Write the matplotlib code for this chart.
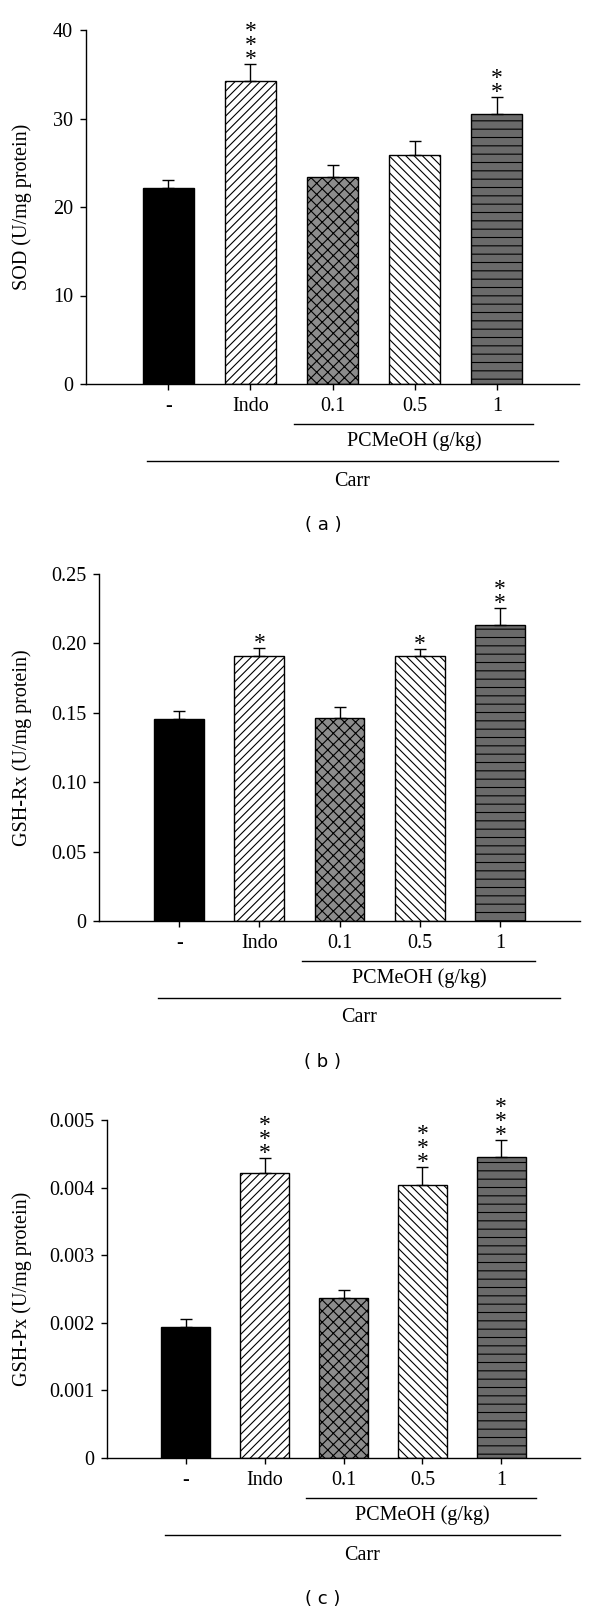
import matplotlib
matplotlib.use('Agg')
import matplotlib.pyplot as plt
from matplotlib.transforms import blended_transform_factory, offset_copy

# ---------------- data ----------------
categories = ['-', 'Indo', '0.1', '0.5', '1']

sod_mean = [22.2, 34.2, 23.4, 25.9, 30.5]
sod_err = [0.9, 2.0, 1.3, 1.6, 1.9]
sod_stars = [0, 3, 0, 0, 2]
sod_ticks = [0, 10, 20, 30, 40]
sod_ticklabels = ['0', '10', '20', '30', '40']

gshrx_mean = [0.1455, 0.1907, 0.1462, 0.1912, 0.2136]
gshrx_err = [0.0058, 0.0060, 0.0082, 0.0048, 0.0122]
gshrx_stars = [0, 1, 0, 1, 2]
gshrx_ticks = [0, 0.05, 0.10, 0.15, 0.20, 0.25]
gshrx_ticklabels = ['0', '0.05', '0.10', '0.15', '0.20', '0.25']

gshpx_mean = [0.00194, 0.00421, 0.00236, 0.00404, 0.00446]
gshpx_err = [0.00012, 0.00023, 0.00012, 0.00027, 0.00025]
gshpx_stars = [0, 3, 0, 3, 3]
gshpx_ticks = [0, 0.001, 0.002, 0.003, 0.004, 0.005]
gshpx_ticklabels = ['0', '0.001', '0.002', '0.003', '0.004', '0.005']

ylabels = ['SOD (U/mg protein)', 'GSH-Rx (U/mg protein)', 'GSH-Px (U/mg protein)']
panel_tags = ['( a )', '( b )', '( c )']
group_inner = 'PCMeOH (g/kg)'
group_outer = 'Carr'

# ---------------- style ----------------
W, H = 600, 1612
plt.rcParams['hatch.linewidth'] = 0.8
SERIF = 'Liberation Serif'
FS = 14.5

fig = plt.figure(figsize=(W / 100, H / 100), dpi=100)

bar_styles = [
    dict(facecolor='black', hatch=None),
    dict(facecolor='white', hatch='////'),
    dict(facecolor='#8c8c8c', hatch='xxx'),
    dict(facecolor='white', hatch='\\\\\\\\'),
    dict(facecolor='#6a6a6a', hatch='--'),
]

# pixel boxes: left, right, top(ymax), bottom(y=0)
boxes = [(86, 579, 30, 384), (99, 580, 574, 921), (107, 580, 1120, 1458)]

panels = [
    (sod_mean, sod_err, sod_stars, sod_ticks, sod_ticklabels),
    (gshrx_mean, gshrx_err, gshrx_stars, gshrx_ticks, gshrx_ticklabels),
    (gshpx_mean, gshpx_err, gshpx_stars, gshpx_ticks, gshpx_ticklabels),
]

xpos = list(range(len(categories)))

for i, (mean, err, stars, ticks, ticklabels) in enumerate(panels):
    l, r, t, b = boxes[i]
    ax = fig.add_axes([l / W, 1 - b / H, (r - l) / W, (b - t) / H])
    ax.set_xlim(-1, 5)
    ax.set_ylim(0, ticks[-1])

    for j in xpos:
        st = bar_styles[j]
        ax.bar(xpos[j], mean[j], width=0.62, color=st['facecolor'],
               hatch=st['hatch'], edgecolor='black', linewidth=1.0, zorder=2)

    ax.errorbar(xpos, mean, yerr=[[0] * len(mean), err], fmt='none',
                ecolor='black', elinewidth=1.0, capsize=4, capthick=1.0, zorder=3)

    # significance stars (stacked vertically)
    for j in xpos:
        if stars[j] > 0:
            tr = offset_copy(ax.transData, fig=fig, x=0, y=-6, units='dots')
            ax.text(xpos[j], mean[j] + err[j], '\n'.join(['*'] * stars[j]),
                    transform=tr, ha='center', va='bottom', fontsize=17,
                    family=SERIF, linespacing=0.55, clip_on=False)

    for s in ['top', 'right']:
        ax.spines[s].set_visible(False)
    for s in ['left', 'bottom']:
        ax.spines[s].set_linewidth(1.0)

    ax.set_yticks(ticks)
    ax.set_yticklabels(ticklabels, family=SERIF, fontsize=FS)
    ax.set_xticks(xpos)
    ax.set_xticklabels(categories, family=SERIF, fontsize=FS)
    ax.tick_params(axis='both', direction='out', length=4.3, width=1.0)
    ax.tick_params(axis='y', pad=5)
    ax.tick_params(axis='x', pad=5)

    ax.set_ylabel(ylabels[i], family=SERIF, fontsize=FS)
    ax.yaxis.set_label_coords((32 - l) / (r - l), 0.5)

    # group lines and labels
    tr = blended_transform_factory(ax.transData, fig.transFigure)
    def fy(off):
        return 1 - (b + off) / H
    ax.plot([1.53, 4.44], [fy(40), fy(40)], color='black', lw=1.0,
            transform=tr, clip_on=False)
    ax.text(3.0, fy(57), group_inner, transform=tr, ha='center', va='center',
            family=SERIF, fontsize=FS)
    ax.plot([-0.26, 4.75], [fy(77), fy(77)], color='black', lw=1.0,
            transform=tr, clip_on=False)
    ax.text(2.24, fy(97), group_outer, transform=tr, ha='center', va='center',
            family=SERIF, fontsize=FS)
    fig.text(323 / W, fy(141), panel_tags[i], ha='center', va='center',
             family='DejaVu Sans', fontsize=13)

fig.savefig('out.png', dpi=100)
